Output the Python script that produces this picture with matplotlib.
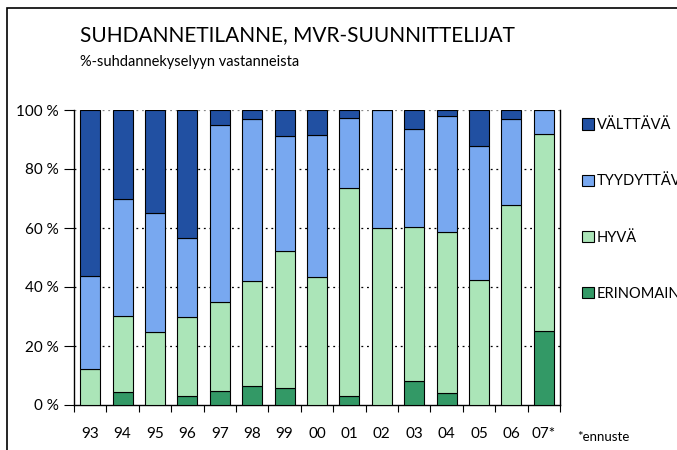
import numpy as np
import matplotlib
matplotlib.use("Agg")
import matplotlib.pyplot as plt
from matplotlib.patches import Rectangle, Patch

plt.rcParams['font.family'] = ['Lato', 'DejaVu Sans']

years = ['93', '94', '95', '96', '97', '98', '99', '00', '01', '02', '03', '04', '05', '06', '07*']
erinomainen = [0, 4.3, 0, 3.2, 4.8, 6.3, 5.6, 0, 2.9, 0, 8.2, 4.1, 0, 0, 25.0]
hyva = [12.3, 26.0, 24.9, 26.6, 30.2, 35.7, 46.5, 43.5, 70.7, 60.0, 52.2, 54.6, 42.3, 67.7, 66.9]
tyydyttava = [31.5, 39.5, 40.1, 26.7, 60.0, 54.8, 39.2, 47.9, 23.6, 40.0, 33.3, 39.3, 45.6, 29.3, 8.1]
valttava = [56.2, 30.2, 35.0, 43.5, 5.0, 3.2, 8.7, 8.6, 2.8, 0, 6.3, 2.0, 12.1, 3.0, 0]

series = [('ERINOMAINEN', erinomainen, '#339966'),
          ('HYVÄ', hyva, '#abe5b8'),
          ('TYYDYTTÄVÄ', tyydyttava, '#78a8f0'),
          ('VÄLTTÄVÄ', valttava, '#2150a2')]

fig = plt.figure(figsize=(6.77, 4.5), dpi=100)
ax = fig.add_axes([74/677, 45/450, 486/677, 295/450])

x = np.arange(len(years))
bottom = np.zeros(len(years))
for name, vals, col in series:
    v = np.array(vals)
    ax.bar(x, v, 0.62, bottom=bottom, color=col, edgecolor='black', linewidth=0.8, zorder=3)
    bottom += v

ax.set_xlim(-0.5, len(years) - 0.5)
ax.set_ylim(0, 100)
ax.set_yticks(np.arange(0, 101, 20))
ax.set_yticklabels(['%d %%' % t for t in range(0, 101, 20)], fontsize=11)
ax.tick_params(axis='y', length=7, width=0.8, pad=4)
for t in range(20, 101, 20):
    ax.axhline(t, color='black' if t < 100 else '#888888', linestyle=(0, (1.5, 3)), linewidth=0.9, zorder=1)

ax.set_xticks(x)
ax.set_xticklabels(years, fontsize=11)
ax.tick_params(axis='x', length=0, pad=16)
ax.set_xticks(np.arange(-0.5, len(years)), minor=True)
ax.tick_params(axis='x', which='minor', length=5, width=0.8)

ax.spines['top'].set_visible(False)
for s in ['left', 'bottom', 'right']:
    ax.spines[s].set_linewidth(1.0)

fig.text(80/677, 1 - 35/450, 'SUHDANNETILANNE, MVR-SUUNNITTELIJAT', fontsize=15, va='center', ha='left')
fig.text(80/677, 1 - 62/450, '%-suhdannekyselyyn vastanneista', fontsize=10.5, va='center', ha='left')
fig.text(577/677, 1 - 437/450, '*ennuste', fontsize=9.5, va='center', ha='left')

handles = [Patch(facecolor=c, edgecolor='black', linewidth=0.8, label=n) for n, v, c in series[::-1]]
fig.legend(handles=handles, loc='upper left', bbox_to_anchor=(582/677, 1 - 118/450),
           frameon=False, fontsize=10.5, handlelength=0.8, handleheight=0.8,
           handletextpad=0.2, labelspacing=2.9, borderpad=0, borderaxespad=0)

# outer frame of the original chart
fig.add_artist(Rectangle((7/677, -0.1), 1.2, 1 - 8/450 + 0.1, transform=fig.transFigure,
                         fill=False, edgecolor='black', linewidth=1.2))

fig.savefig('out.png', dpi=100)
